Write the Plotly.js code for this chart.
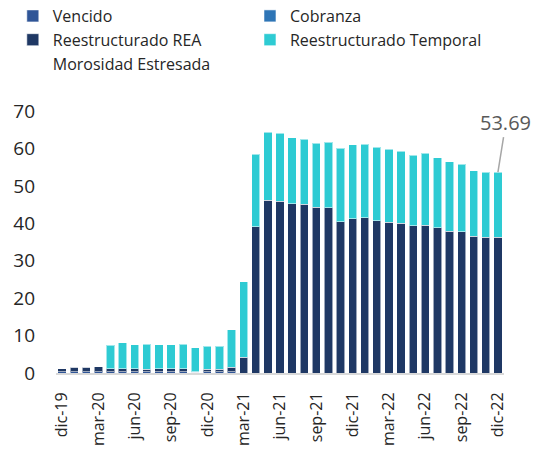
<!DOCTYPE html>
<html>
<head>
<meta charset="utf-8">
<script src="https://cdn.plot.ly/plotly-3.0.1.min.js"></script>
<style>html,body{margin:0;padding:0;background:#fff;}#chart{width:534px;height:449px;}</style>
</head>
<body>
<div id="chart"></div>
<script>
const months = ['dic-19','ene-20','feb-20','mar-20','abr-20','may-20','jun-20','jul-20','ago-20','sep-20','oct-20','nov-20',
  'dic-20','ene-21','feb-21','mar-21','abr-21','may-21','jun-21','jul-21','ago-21','sep-21','oct-21','nov-21',
  'dic-21','ene-22','feb-22','mar-22','abr-22','may-22','jun-22','jul-22','ago-22','sep-22','oct-22','nov-22','dic-22'];
const tickLabels = ['dic-19','mar-20','jun-20','sep-20','dic-20','mar-21','jun-21','sep-21','dic-21','mar-22','jun-22','sep-22','dic-22'];

const vencido = [0.3,0.3,0.3,0.3,0.3,0.3,0.3,0.3,0.3,0.3,0.3,0.2,
  0.3,0.3,0.3,0,0,0,0,0,0,0,0,0,
  0,0,0,0,0,0,0,0,0,0,0,0,0];
const cobranza = [0,0,0,0,0,0,0,0,0,0,0,0,
  0,0,0,0,0,0,0,0,0,0,0,0,
  0,0,0,0,0,0,0,0,0,0,0,0,0];
const reestructuradoREA = [0.85,1.3,1.3,1.4,0.85,0.85,0.85,0.7,0.85,0.85,0.9,0.1,
  0.65,0.65,1.3,4.2,39.1,46.2,45.9,45.2,45.1,44.3,44.1,40.4,
  41.2,41.5,40.7,40.3,40.0,39.3,39.5,38.8,37.9,37.7,36.5,36.3,36.3];
const reestructuradoTemporal = [0,0,0,0,6.25,6.95,6.45,6.7,6.35,6.35,6.5,6.4,
  6.25,6.25,9.9,20.2,19.3,18.1,18.1,17.7,17.4,17.1,17.5,19.7,
  19.8,19.6,19.6,19.5,19.3,18.9,19.2,18.7,18.6,18.1,17.5,17.4,17.39];
const morosidadEstresada = [1.15,1.6,1.6,1.7,7.4,8.1,7.6,7.7,7.5,7.5,7.7,6.7,
  7.2,7.2,11.5,24.4,58.4,64.3,64.0,62.9,62.5,61.4,61.6,60.1,
  61.0,61.1,60.3,59.8,59.3,58.2,58.7,57.5,56.5,55.8,54.0,53.7,53.69];

const FONT = 'Open Sans, Liberation Sans, sans-serif';
const edge = {color:'rgba(255,255,255,0.55)', width:1};
function bar(name, y, color, leg){
  return {type:'bar', name:name, x:months, y:y, legend:leg, marker:{color:color, line:edge}, hoverinfo:'skip'};
}
const traces = [
  bar('Vencido', vencido, '#2F5597', 'legend'),
  bar('Cobranza', cobranza, '#2E75B6', 'legend2'),
  bar('Reestructurado REA', reestructuradoREA, '#1F3864', 'legend'),
  bar('Reestructurado Temporal', reestructuradoTemporal, '#2ECBD3', 'legend2'),
  {type:'scatter', mode:'lines', name:'Morosidad Estresada', x:months, y:morosidadEstresada, legend:'legend',
   line:{width:0, color:'rgba(0,0,0,0)'}, hoverinfo:'skip'}
];
const last = morosidadEstresada.length - 1;
const legFont = {size:16, family:FONT, color:'#262626'};
const layout = {
  width:534, height:449,
  margin:{l:56, r:30, t:111, b:76, autoexpand:false},
  paper_bgcolor:'#fff', plot_bgcolor:'#fff',
  barmode:'stack', bargap:0.32,
  font:{family:FONT, color:'#262626'},
  showlegend:true,
  legend:{orientation:'v', x:-0.0964, xanchor:'left', y:1.4275, yanchor:'top', traceorder:'normal',
    font:legFont, bgcolor:'rgba(0,0,0,0)'},
  legend2:{orientation:'v', x:0.433, xanchor:'left', y:1.4275, yanchor:'top', traceorder:'normal',
    font:legFont, bgcolor:'rgba(0,0,0,0)'},
  xaxis:{type:'category', tickmode:'array', tickvals:tickLabels, ticktext:tickLabels,
    tickangle:-90, tickfont:{size:16, family:FONT, color:'#262626'},
    showline:true, linecolor:'#D9D9D9', linewidth:2, ticks:'', showgrid:false,
    ticklabelstandoff:11, range:[-0.5, months.length-0.5], fixedrange:true},
  yaxis:{range:[0,70], dtick:10, showgrid:false, zeroline:false, showline:false, ticks:'',
    tickfont:{size:19, family:FONT, color:'#262626'}, ticklabelstandoff:20, fixedrange:true},
  annotations:[{x:months[last], y:morosidadEstresada[last], xref:'x', yref:'y',
    text:morosidadEstresada[last].toFixed(2), showarrow:true, arrowhead:0,
    arrowcolor:'#A6A6A6', arrowwidth:1.5, ax:8, ay:-50, standoff:0,
    font:{size:20, family:FONT, color:'#595959'}}]
};
Plotly.newPlot('chart', traces, layout, {displayModeBar:false, staticPlot:true});
</script>
</body>
</html>
